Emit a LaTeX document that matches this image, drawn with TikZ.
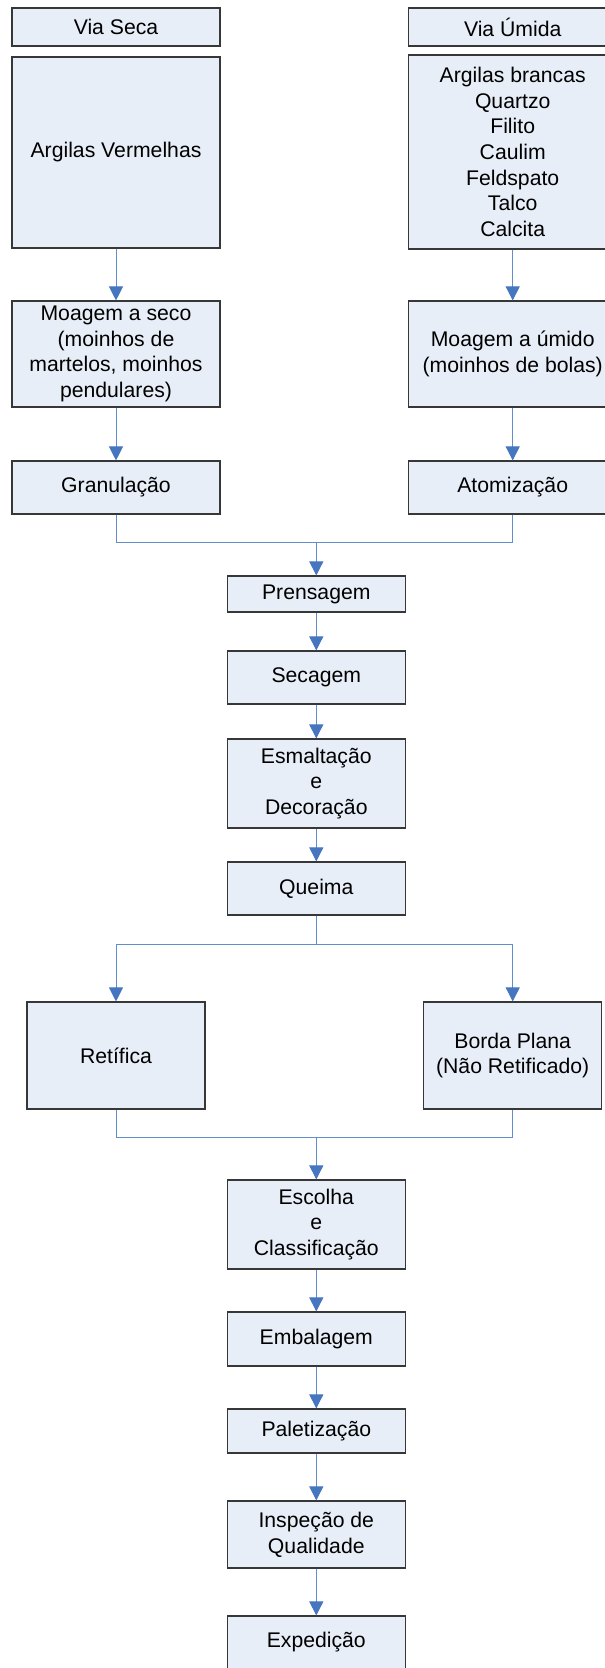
\documentclass[tikz,border=0pt]{standalone}
\usepackage{fontspec}
\setmainfont{Liberation Sans}
\usetikzlibrary{arrows.meta, positioning, calc}
\definecolor{boxfill}{RGB}{232,238,247}
\definecolor{boxline}{RGB}{55,55,55}
\definecolor{flowline}{RGB}{98,142,206}
\definecolor{flowtip}{RGB}{70,118,192}

\begin{document}
\begin{tikzpicture}[
    x=1pt, y=-1pt,
    stage/.style={draw=boxline, fill=boxfill, line width=1.1pt, inner sep=0pt,
        align=center, font=\fontsize{21.2}{25.7}\selectfont},
    wide/.style={stage, minimum width=208pt},
    mid/.style={stage, minimum width=178pt},
    link/.style={draw=flowline, line width=1pt},
    arrow/.style={link, -{Triangle[width=14pt, length=14pt, color=flowtip]}}
]
    \useasboundingbox (0,0) rectangle (605,1668);
    % dry and wet routes
    \node[wide, minimum height=38pt] (viaseca) at (116,27) {Via Seca};
    \node[wide, minimum height=38pt] (viaumida) at (512.7,27) {Via Úmida};
    \node[wide, minimum height=191pt] (argver) at (116,152.5) {Argilas Vermelhas};
    \node[wide, minimum height=194pt] (argbra) at (512.7,152) {Argilas brancas\\Quartzo\\Filito\\Caulim\\Feldspato\\Talco\\Calcita};
    \node[wide, minimum height=106pt] (mseco) at (116,354) {Moagem a seco\\(moinhos de\\martelos, moinhos\\pendulares)};
    \node[wide, minimum height=106pt] (mumido) at (512.7,354) {Moagem a úmido\\(moinhos de bolas)};
    \node[wide, minimum height=53pt] (gran) at (116,487.5) {Granulação};
    \node[wide, minimum height=53pt] (atom) at (512.7,487.5) {Atomização};
    % main line
    \node[mid, minimum height=36pt] (prens) at (316.3,594) {Prensagem};
    \node[mid, minimum height=53pt] (secag) at (316.3,677.5) {Secagem};
    \node[mid, minimum height=89pt] (esmalt) at (316.3,783.5) {Esmaltação\\e\\Decoração};
    \node[mid, minimum height=53pt] (queima) at (316.3,888.5) {Queima};
    \node[mid, minimum height=107pt] (retif) at (116,1055.5) {Retífica};
    \node[mid, minimum height=107pt] (borda) at (512.7,1055.5) {Borda Plana\\(Não Retificado)};
    \node[mid, minimum height=89pt] (escolha) at (316.3,1224.5) {Escolha\\e\\Classificação};
    \node[mid, minimum height=54pt] (embal) at (316.3,1339) {Embalagem};
    \node[mid, minimum height=44pt] (palet) at (316.3,1431) {Paletização};
    \node[mid, minimum height=67pt] (insp) at (316.3,1534.5) {Inspeção de\\Qualidade};
    \node[mid, minimum height=53pt] (exped) at (316.3,1642.5) {Expedição};
    \coordinate (join1) at (316.3,542.7);
    \coordinate (split) at (316.3,944);
    \coordinate (join2) at (316.3,1137);
    % connectors
    \draw[arrow] (argver) -- (mseco);
    \draw[arrow] (mseco) -- (gran);
    \draw[arrow] (argbra) -- (mumido);
    \draw[arrow] (mumido) -- (atom);
    \draw[link] (gran.south) |- (join1);
    \draw[link] (atom.south) |- (join1);
    \draw[arrow] (join1) -- (prens);
    \draw[arrow] (prens) -- (secag);
    \draw[arrow] (secag) -- (esmalt);
    \draw[arrow] (esmalt) -- (queima);
    \draw[link] (queima) -- (split);
    \draw[arrow] (split) -| (retif.north);
    \draw[arrow] (split) -| (borda.north);
    \draw[link] (retif.south) |- (join2);
    \draw[link] (borda.south) |- (join2);
    \draw[arrow] (join2) -- (escolha);
    \draw[arrow] (escolha) -- (embal);
    \draw[arrow] (embal) -- (palet);
    \draw[arrow] (palet) -- (insp);
    \draw[arrow] (insp) -- (exped);
\end{tikzpicture}
\end{document}
